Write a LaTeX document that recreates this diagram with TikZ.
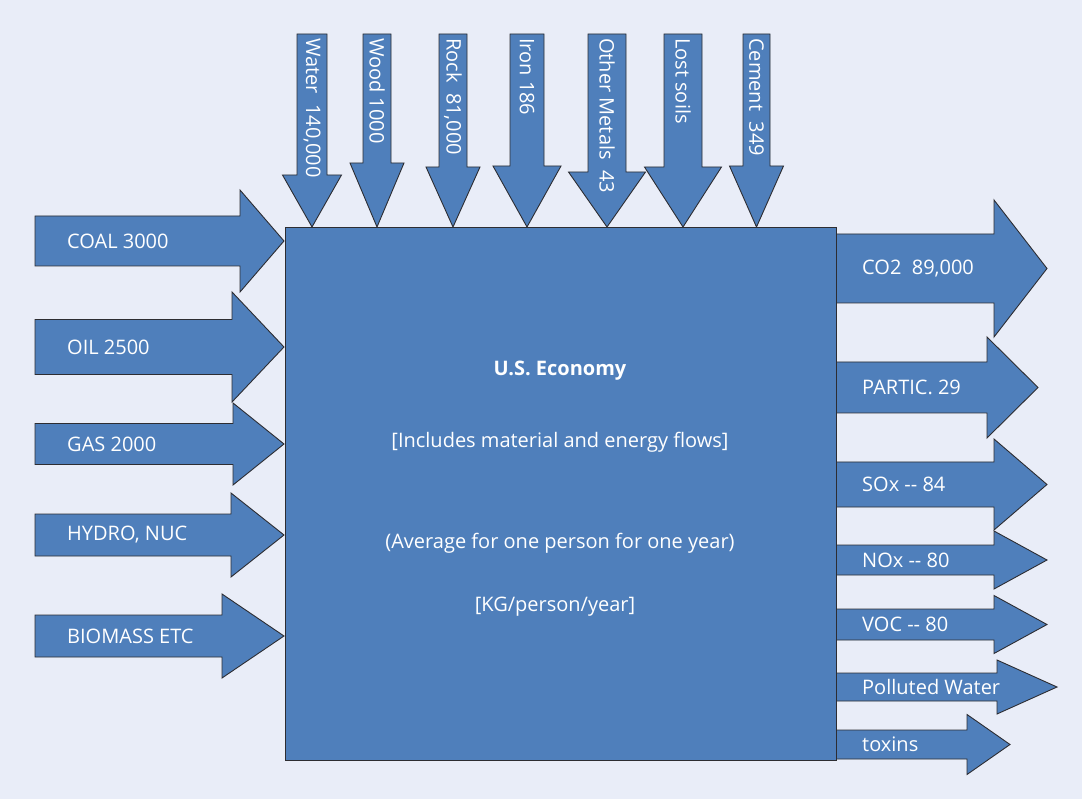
\documentclass[tikz,border=0pt]{standalone}
\usepackage{fontspec}
\setmainfont{Open Sans}
\usepackage{xcolor}
\usepackage{tikz}
\definecolor{flowblue}{RGB}{79,127,187}
\definecolor{bgpale}{RGB}{233,237,248}
\definecolor{edgegray}{RGB}{45,45,50}
\tikzset{
  flow/.style={fill=flowblue, draw=edgegray, line width=0.9pt, line join=miter},
  lbl/.style={text=white, font=\fontsize{20}{24}\selectfont, inner sep=0pt},
}
\begin{document}
\begin{tikzpicture}[x=1pt, y=-1pt]
% background
\fill[bgpale] (0,0) rectangle (1082,799);
\useasboundingbox (0,0) rectangle (1082,799);
% energy inputs from the left
\foreach \ya/\hb/\hx/\hh/\txt/\nm in {241/25/240/51/{COAL 3000}/coal, 347/27.5/232/55/{OIL 2500}/oil,
  444/20.5/233/41/{GAS 2000}/gas, 535/21/231/42/{HYDRO, NUC}/hydro, 636/21/222/42/{BIOMASS ETC}/biomass}
{
  \draw[flow] (35,\ya-\hb) -- (\hx,\ya-\hb) -- (\hx,\ya-\hh) -- (284,\ya) -- (\hx,\ya+\hh)
    -- (\hx,\ya+\hb) -- (35,\ya+\hb) -- cycle;
  \node[lbl, anchor=west] (\nm) at (67,\ya) {\txt};
}
% material inputs from the top
\foreach \xa/\hb/\hy/\hh/\txt/\nm in {312/15/175/29.5/{Water\ \ 140,000}/water, 377/14/163/27/{Wood 1000}/wood,
  453/14/167/27/{Rock\ \ 81,000}/rock, 527/17/166/34/{Iron 186}/iron, 607/19/172/38.5/{Other Metals\ \ 43}/metals,
  683/19/167/38.5/{Lost soils}/soils, 756.5/13.5/166/27/{Cement\ \ 349}/cement}
{
  \draw[flow] (\xa-\hb,34) -- (\xa+\hb,34) -- (\xa+\hb,\hy) -- (\xa+\hh,\hy) -- (\xa,227)
    -- (\xa-\hh,\hy) -- (\xa-\hb,\hy) -- cycle;
  \node[lbl, rotate=-90, anchor=west] (\nm) at (\xa,38) {\txt};
}
% outputs to the right
\foreach \ya/\hb/\hx/\hh/\tx/\txt/\nm in {268.5/34.5/994/68.5/1047/{CO2\ \ 89,000}/co2, 387.5/25.5/987/50.5/1038/{PARTIC. 29}/partic,
  484.5/22.5/994/45.5/1047/{SOx -{}- 84}/sox, 560/15/994/29/1047/{NOx -{}- 80}/nox, 624.5/15.5/994/29/1047/{VOC -{}- 80}/voc,
  687/14/997/27/1057/{Polluted Water}/water2, 744.5/14.5/967/30/1010/{toxins}/toxins}
{
  \draw[flow] (830,\ya-\hb) -- (\hx,\ya-\hb) -- (\hx,\ya-\hh) -- (\tx,\ya) -- (\hx,\ya+\hh)
    -- (\hx,\ya+\hb) -- (830,\ya+\hb) -- cycle;
  \node[lbl, anchor=west] (\nm) at (862,\ya) {\txt};
}
% the economy itself
\node[flow, minimum width=551pt, minimum height=533pt, inner sep=0pt] (economy) at (560.5,493.5) {};
\node[lbl] (title) at (560,371) {\bfseries U.S. Economy};
\node[lbl] (includes) at (560,442) {[Includes material and energy flows]};
\node[lbl] (average) at (560,543) {(Average for one person for one year)};
\node[lbl] (units) at (555,607) {[KG/person/year]};
\end{tikzpicture}
\end{document}
